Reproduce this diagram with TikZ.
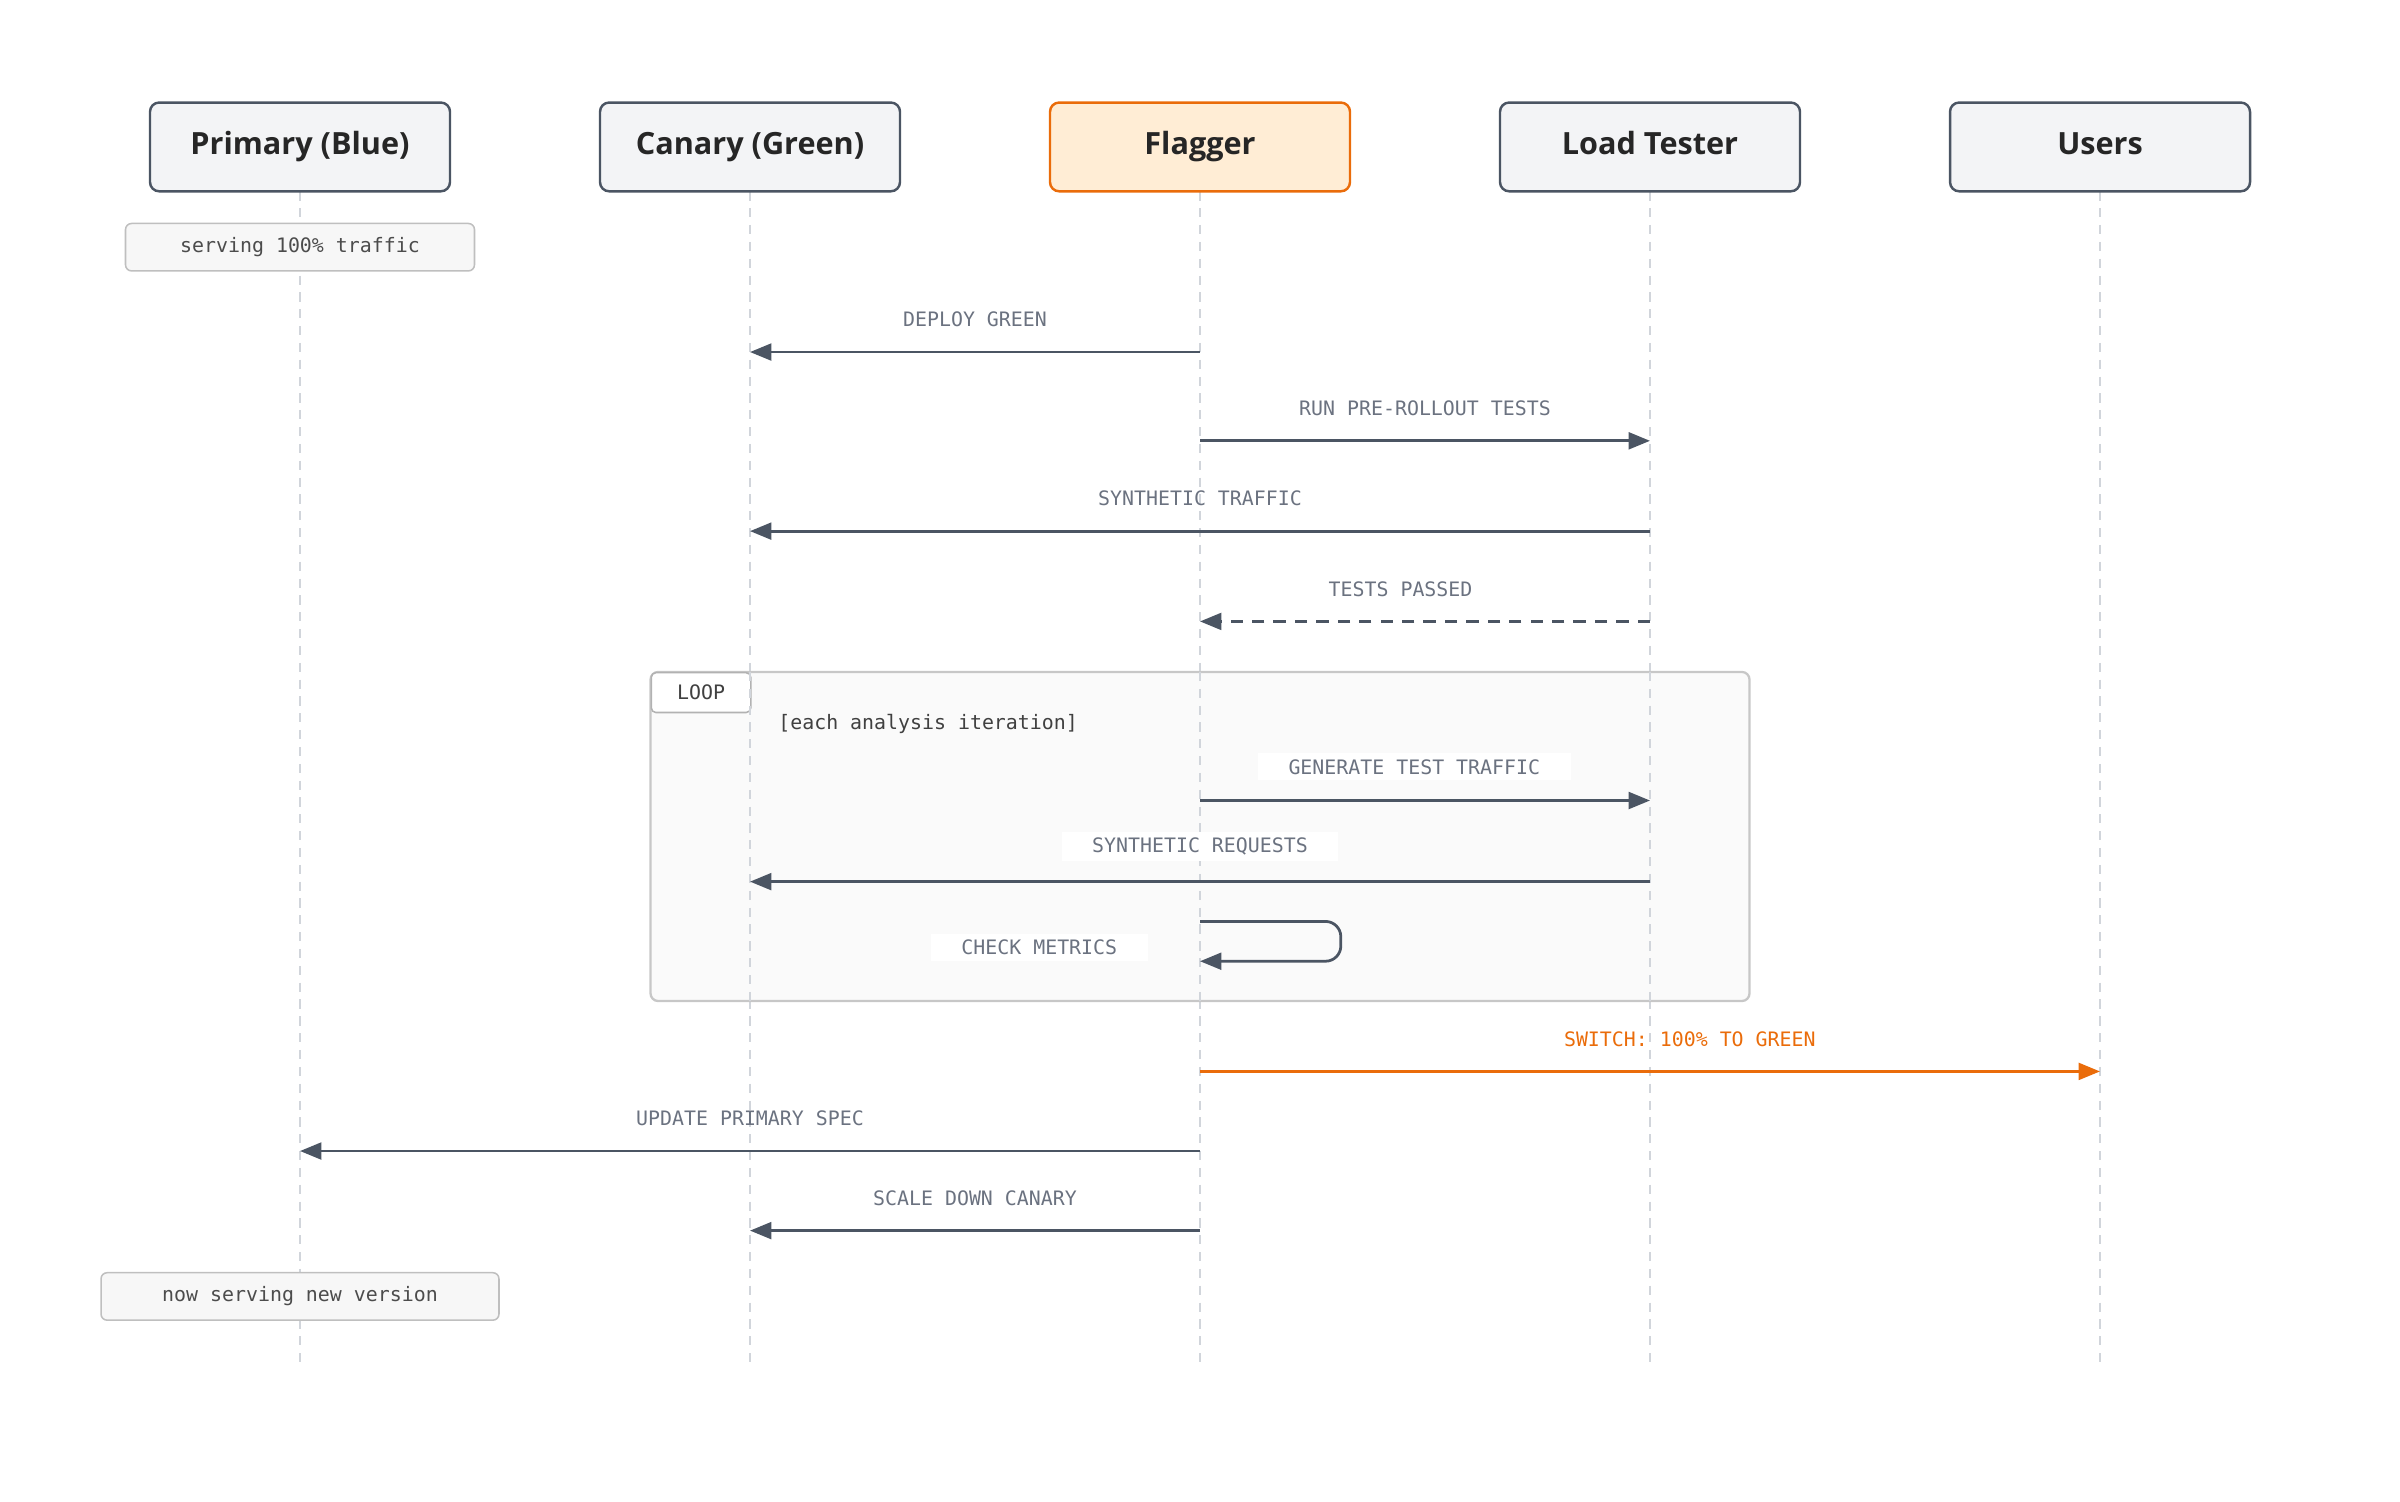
\documentclass[tikz,border=0pt]{standalone}
\usepackage{fontspec}
\setmainfont{Open Sans}
\newfontfamily\monofont{DejaVu Sans Mono}
\usetikzlibrary{arrows.meta,positioning}
\definecolor{lineGray}{HTML}{4B5563}
\definecolor{textGray}{HTML}{6B7280}
\definecolor{boxBorder}{HTML}{4B5563}
\definecolor{boxFill}{HTML}{F3F4F6}
\definecolor{flagFill}{HTML}{FFEDD5}
\definecolor{flagOrange}{HTML}{EA6C0A}
\definecolor{lifeGray}{HTML}{D1D5DB}
\tikzset{
  actor/.style={draw=boxBorder,fill=boxFill,rounded corners=6pt,line width=1.6pt,
    minimum width=196pt,minimum height=58pt,text height=14pt,text depth=4pt,
    font=\fontsize{20}{24}\selectfont\bfseries,text=black!85},
  note/.style={draw=black!25,fill=black!3,rounded corners=4pt,line width=1pt,
    minimum height=31pt,font=\monofont\fontsize{13}{16}\selectfont,text=black!70},
  msg/.style={font=\monofont\fontsize{13}{15}\selectfont,text=textGray},
  msgbg/.style={msg,fill=white,inner xsep=20pt,inner ysep=4pt},
  call/.style={draw=lineGray,line width=1.8pt,-{Triangle[length=14pt,width=11pt]}},
  life/.style={draw=lifeGray,line width=1.2pt,dash pattern=on 6pt off 5pt},
}
\begin{document}
\begin{tikzpicture}[x=1pt,y=-1pt]
\useasboundingbox (0,0) rectangle (1568,981.3);
% lifelines
\foreach \nm/\xx in {prim/196,can/490,flag/784,load/1078,usr/1372}{
  \coordinate (\nm top) at (\xx,125);
  \coordinate (\nm bot) at (\xx,890);
  \draw[life] (\nm top) -- (\nm bot);
}
% loop frame
\draw[draw=black!22,fill=black!2,rounded corners=5pt,line width=1.5pt] (425,439) rectangle (1143,654);
\node[draw=black!30,fill=white,rounded corners=3pt,line width=1pt,minimum width=65pt,minimum height=26pt,
  anchor=north west,font=\monofont\fontsize{13}{16}\selectfont,text=black!75] (looptag) at (425,439) {LOOP};
\node[anchor=west,font=\monofont\fontsize{13}{16}\selectfont,text=black!75] (cond) at (505,473) {[each analysis iteration]};
\foreach \nm/\xx in {can/490,flag/784,load/1078}
  \draw[life] (\xx,439) -- (\xx,654);
% actors
\node[actor] (prim) at (196,96) {Primary (Blue)};
\node[actor] (can) at (490,96) {Canary (Green)};
\node[actor,fill=flagFill,draw=flagOrange] (flag) at (784,96) {Flagger};
\node[actor] (load) at (1078,96) {Load Tester};
\node[actor] (usr) at (1372,96) {Users};
% notes
\node[note,minimum width=228pt] (n1) at (196,161.5) {serving 100\% traffic};
\node[note,minimum width=260pt] (n2) at (196,847) {now serving new version};
% messages
\coordinate (f1) at (784,230); \coordinate (c1) at (490,230);
\draw[call] (f1) -- node[msg,above=12pt] {DEPLOY GREEN} (c1);
\coordinate (f2) at (784,288); \coordinate (l2) at (1078,288);
\draw[call] (f2) -- node[msg,above=12pt] {RUN PRE-ROLLOUT TESTS} (l2);
\coordinate (l3) at (1078,347); \coordinate (c3) at (490,347);
\draw[call] (l3) -- node[msg,above=12pt] {SYNTHETIC TRAFFIC} (c3);
\coordinate (l4) at (1078,406); \coordinate (f4) at (784,406);
\draw[call,dash pattern=on 8pt off 6pt] (l4) -- node[msg,above=12pt,xshift=-16pt] {TESTS PASSED} (f4);
\coordinate (f5) at (784,523); \coordinate (l5) at (1078,523);
\draw[call] (f5) -- (l5);
\node[msgbg] (m5) at (924,501) {GENERATE TEST TRAFFIC};
\coordinate (l6) at (1078,576); \coordinate (c6) at (490,576);
\draw[call] (l6) -- (c6);
\node[msgbg] (m6) at (784,553) {SYNTHETIC REQUESTS};
\coordinate (f7) at (784,602); \coordinate (f7b) at (784,628);
\draw[call,rounded corners=10pt] (f7) -- (876,602) -- (876,628) -- (f7b);
\node[msgbg] (m7) at (679,619) {CHECK METRICS};
\coordinate (f8) at (784,700); \coordinate (u8) at (1372,700);
\draw[call,draw=flagOrange,-{Triangle[length=14pt,width=11pt]},color=flagOrange] (f8) --
  node[msg,text=flagOrange,above=12pt,xshift=26pt] {SWITCH: 100\% TO GREEN} (u8);
\coordinate (f9) at (784,752); \coordinate (p9) at (196,752);
\draw[call] (f9) -- node[msg,above=12pt] {UPDATE PRIMARY SPEC} (p9);
\coordinate (f10) at (784,804); \coordinate (c10) at (490,804);
\draw[call] (f10) -- node[msg,above=12pt] {SCALE DOWN CANARY} (c10);
\end{tikzpicture}
\end{document}
